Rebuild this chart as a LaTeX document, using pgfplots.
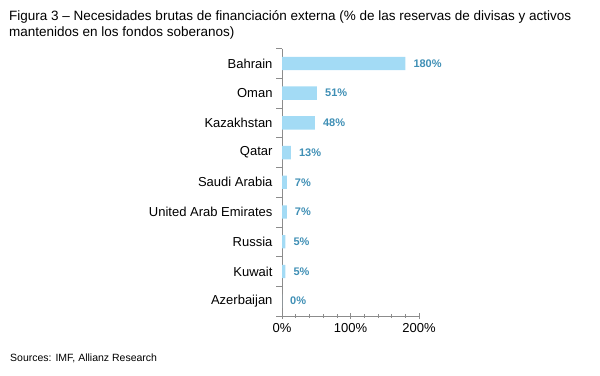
\documentclass[border=0pt]{standalone}
\usepackage{fontspec}
\setmainfont{Liberation Sans}
\usepackage{pgfplots}
\pgfplotsset{compat=1.18}
\definecolor{barblue}{HTML}{A3DBF5}
\definecolor{lblblue}{HTML}{3F8FB5}
\definecolor{axisgray}{HTML}{8C8C8C}
\begin{document}
\begin{tikzpicture}
\useasboundingbox (0,0) rectangle (600bp,-376bp);
\node[anchor=base west, inner sep=0, font=\fontsize{13.5bp}{16bp}\selectfont] at (9bp,-20bp) {Figura 3 – Necesidades brutas de financiación externa (\% de las reservas de divisas y activos};
\node[anchor=base west, inner sep=0, font=\fontsize{13.5bp}{16bp}\selectfont] at (9bp,-36bp) {mantenidos en los fondos soberanos)};
\node[anchor=base west, inner sep=0, font=\fontsize{10.5bp}{12bp}\selectfont] at (10bp,-361bp) {Sources: IMF, Allianz Research};
\begin{axis}[
  at={(282bp,-316bp)}, anchor=south west,
  scale only axis, width=137bp, height=267.4bp,
  bar width=0.45, bar shift=0pt,
  xmin=0, xmax=200,
  ymin=-0.5, ymax=8.5, y dir=reverse,
  axis x line=bottom, axis y line=left,
  axis line style={-, draw=axisgray, line width=0.6pt},
  xtick={0,100,200}, xticklabels={0\%,100\%,200\%},
  minor x tick num=4,
  ytick={-0.5,0.5,...,8.5},
  y tick label as interval,
  yticklabels={Bahrain,Oman,Kazakhstan,Qatar,Saudi Arabia,United Arab Emirates,Russia,Kuwait,Azerbaijan},
  xtick align=center, ytick align=outside,
  major tick length=6bp, minor tick length=4bp,
  every tick/.style={draw=axisgray, line width=0.6pt},
  ticklabel style={font=\fontsize{13bp}{15bp}\selectfont, text=black},
  xticklabel style={yshift=-1bp},
  point meta=explicit symbolic,
  nodes near coords={\pgfplotspointmeta\%},
  every node near coord/.append style={anchor=west, inner sep=0pt, xshift=8bp, text=lblblue, font=\fontsize{11bp}{13bp}\selectfont\bfseries},
  clip=false,
]
\addplot[xbar, bar width=0.45, bar shift=0pt, draw=none, fill=barblue] table[x=v, y=c, meta=v] {
c v
0 180
1 51
2 48
3 13
4 7
5 7
6 5
7 5
8 0
};
\pgfplotsinvokeforeach{0.5,1.5,2.5,3.5,4.5,5.5,6.5,7.5}{
  \draw[axisgray, line width=0.7pt] (axis cs:0,#1) -- (axis cs:-7.3,#1);
}
\end{axis}
\end{tikzpicture}
\end{document}
